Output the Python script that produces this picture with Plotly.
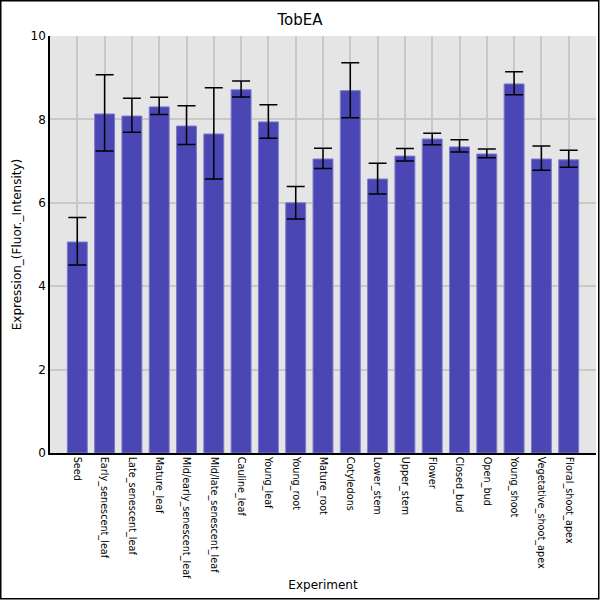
import plotly.graph_objects as go

categories = ["Seed", "Early_senescent_leaf", "Late_senescent_leaf", "Mature_leaf",
              "Mid/early_senescent_leaf", "Mid/late_senescent_leaf", "Cauline_leaf",
              "Young_leaf", "Young_root", "Mature_root", "Cotyledons", "Lower_stem",
              "Upper_stem", "Flower", "Closed_bud", "Open_bud", "Young_shoot",
              "Vegetative_shoot_apex", "Floral_shoot_apex"]
values = [5.06, 8.13, 8.08, 8.30, 7.84, 7.65, 8.71, 7.94, 6.00, 7.05, 8.69, 6.57,
          7.12, 7.53, 7.34, 7.17, 8.85, 7.05, 7.03]
err_upper = [5.65, 9.07, 8.51, 8.53, 8.33, 8.76, 8.92, 8.35, 6.39, 7.31, 9.36, 6.95,
             7.30, 7.67, 7.51, 7.29, 9.14, 7.36, 7.26]
err_lower = [4.51, 7.24, 7.69, 8.12, 7.40, 6.57, 8.54, 7.55, 5.61, 6.82, 8.04, 6.21,
             7.00, 7.39, 7.22, 7.08, 8.59, 6.78, 6.85]

plus = [u - v for u, v in zip(err_upper, values)]
minus = [v - l for v, l in zip(values, err_lower)]

fig = go.Figure(go.Bar(
    x=categories, y=values, width=0.73,
    marker=dict(color="#4a46b4", line=dict(color="#7d7ac9", width=1)),
    error_y=dict(type="data", symmetric=False, array=plus, arrayminus=minus,
                 color="black", thickness=1.5, width=9),
))

L, R, T, B = 50, 4, 36, 147
W = H = 600
pw = W - L - R
ph = H - T - B

fig.update_layout(
    width=W, height=H,
    margin=dict(l=L, r=R, t=T, b=B, pad=0),
    paper_bgcolor="white", plot_bgcolor="#e5e5e5",
    font=dict(family="DejaVu Sans", color="black"),
    title=dict(text="TobEA", x=0.5, xanchor="center", y=1 - 20 / H, yanchor="middle",
               font=dict(size=15)),
    showlegend=False,
    bargap=0.27,
    xaxis=dict(range=[-1, len(categories)], tickangle=90, tickfont=dict(size=9.7),
               showgrid=True, gridcolor="#c8c8c8", gridwidth=1.5,
               showline=True, linecolor="black", linewidth=1.5, ticks="",
               title=dict(text="Experiment", font=dict(size=12), standoff=2)),
    yaxis=dict(range=[0, 10], dtick=2, tickfont=dict(size=12),
               showgrid=True, gridcolor="#c8c8c8", gridwidth=1.5, zeroline=False,
               showline=True, linecolor="black", linewidth=1.5, ticks="",
               title=dict(text="Expression_(Fluor._Intensity)", font=dict(size=12), standoff=6)),
    shapes=[dict(type="rect", xref="paper", yref="paper",
                 x0=-(L - 0.75) / pw, x1=1 + (R - 1.25) / pw,
                 y0=-(B - 1.25) / ph, y1=1 + (T - 0.75) / ph,
                 line=dict(color="black", width=1.5), fillcolor="rgba(0,0,0,0)")],
)

fig.write_html("out.html", config={"displayModeBar": False},
               post_script="document.body.style.margin='0';document.body.style.overflow='hidden';")
